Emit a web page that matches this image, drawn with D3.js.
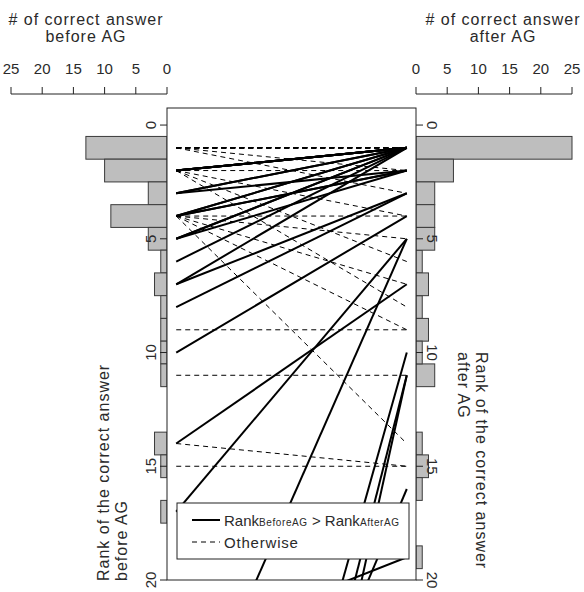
<!DOCTYPE html>
<html>
<head>
<meta charset="utf-8">
<script src="https://cdn.jsdelivr.net/npm/d3@7"></script>
<style>
  body { margin: 0; background: #fff; }
  text { font-family: "Liberation Sans", Arial, sans-serif; fill: #2a2a2a; }
</style>
</head>
<body>
<svg id="chart" width="584" height="592"></svg>
<script>
// rank of the correct answer for each question, before / after AG
const rankBefore = [1, 1, 1, 1, 1, 1, 1, 1, 1, 1, 1, 1, 1,
  2, 2, 2, 2, 2, 2, 2, 2, 2, 2,
  3, 3, 3,
  4, 4, 4, 4, 4, 4, 4, 4, 4,
  5, 5, 5,
  6, 7, 7, 8, 9, 10, 11, 14, 14, 15, 17,
  28, 46, 51, 57, 40, 23];
const rankAfter = [1, 1, 1, 1, 1, 1, 1, 1, 1, 1, 1, 2, 3,
  1, 1, 1, 1, 1, 1, 2, 4, 6, 8,
  1, 1, 2,
  1, 1, 2, 2, 4, 5, 7, 9, 14,
  1, 1, 2,
  1, 1, 3, 3, 9, 4, 11, 7, 15, 15, 5,
  5, 10, 11, 11, 16, 19];

const countTicks = [0, 5, 10, 15, 20, 25];
const rankTicks = [0, 5, 10, 15, 20];
const maxRank = 20;

const pairs = rankBefore.map((b, i) => ({ before: b, after: rankAfter[i] }));

function histogram(ranks) {
  const counts = d3.rollup(ranks.filter(r => r <= maxRank), v => v.length, d => d);
  return Array.from(counts, ([rank, n]) => ({ rank, n }));
}

const svg = d3.select('#chart');

const boxL = 167, boxR = 416, boxT = 108, boxB = 580;

const y = d3.scaleLinear().domain([-0.75, maxRank]).range([boxT, boxB]);
const x = d3.scaleLinear().domain([-0.04, 1.04]).range([boxL, boxR]);
const xBefore = d3.scaleLinear().domain([0, 25]).range([boxL, 11]);
const xAfter = d3.scaleLinear().domain([0, 25]).range([boxR, 572]);

// histograms
svg.append('g')
  .selectAll('rect')
  .data(histogram(rankBefore))
  .join('rect')
  .attr('x', d => xBefore(d.n))
  .attr('y', d => y(d.rank - 0.5))
  .attr('width', d => xBefore(0) - xBefore(d.n))
  .attr('height', d => y(d.rank + 0.5) - y(d.rank - 0.5))
  .attr('fill', '#bebebe')
  .attr('stroke', '#3a3a3a');

svg.append('g')
  .selectAll('rect')
  .data(histogram(rankAfter))
  .join('rect')
  .attr('x', xAfter(0))
  .attr('y', d => y(d.rank - 0.5))
  .attr('width', d => xAfter(d.n) - xAfter(0))
  .attr('height', d => y(d.rank + 0.5) - y(d.rank - 0.5))
  .attr('fill', '#bebebe')
  .attr('stroke', '#3a3a3a');

// plot box
svg.append('rect')
  .attr('x', boxL)
  .attr('y', boxT)
  .attr('width', boxR - boxL)
  .attr('height', boxB - boxT)
  .attr('fill', '#fff')
  .attr('stroke', '#222');

svg.append('clipPath')
  .attr('id', 'box')
  .append('rect')
  .attr('x', boxL)
  .attr('y', boxT)
  .attr('width', boxR - boxL)
  .attr('height', boxB - boxT);

// dashed first, solid on top
const improved = d => d.before > d.after;
svg.append('g')
  .attr('clip-path', 'url(#box)')
  .selectAll('line')
  .data(pairs.filter(d => !improved(d)).concat(pairs.filter(improved)))
  .join('line')
  .attr('x1', x(0))
  .attr('x2', x(1))
  .attr('y1', d => y(d.before))
  .attr('y2', d => y(d.after))
  .attr('stroke', '#000')
  .attr('stroke-width', d => (improved(d) ? 2 : 1))
  .attr('stroke-dasharray', d => (improved(d) ? null : '5,4'));

// rank axes
const leftRank = svg.append('g').attr('transform', `translate(${boxL},0)`);
leftRank.selectAll('line')
  .data(rankTicks)
  .join('line')
  .attr('x1', 0).attr('x2', -7)
  .attr('y1', d => y(d)).attr('y2', d => y(d))
  .attr('stroke', '#222');
leftRank.selectAll('text')
  .data(rankTicks)
  .join('text')
  .attr('transform', d => `translate(-11,${y(d)}) rotate(-90)`)
  .attr('text-anchor', 'middle')
  .attr('font-size', 15)
  .text(d => d);

const rightRank = svg.append('g').attr('transform', `translate(${boxR},0)`);
rightRank.selectAll('line')
  .data(rankTicks)
  .join('line')
  .attr('x1', 0).attr('x2', 7)
  .attr('y1', d => y(d)).attr('y2', d => y(d))
  .attr('stroke', '#222');
rightRank.selectAll('text')
  .data(rankTicks)
  .join('text')
  .attr('transform', d => `translate(11,${y(d)}) rotate(90)`)
  .attr('text-anchor', 'middle')
  .attr('font-size', 15)
  .text(d => d);

// count axes on top
function countAxis(scale, cx, label) {
  const g = svg.append('g');
  g.append('line')
    .attr('x1', scale(0)).attr('x2', scale(25))
    .attr('y1', 94).attr('y2', 94)
    .attr('stroke', '#222');
  g.selectAll('.tick')
    .data(countTicks)
    .join('line')
    .attr('x1', d => scale(d)).attr('x2', d => scale(d))
    .attr('y1', 94).attr('y2', 87)
    .attr('stroke', '#222');
  g.selectAll('.lbl')
    .data(countTicks)
    .join('text')
    .attr('x', d => scale(d))
    .attr('y', 74)
    .attr('text-anchor', 'middle')
    .attr('font-size', 15)
    .text(d => d);
  const t = g.append('text')
    .attr('text-anchor', 'middle')
    .attr('font-size', 16)
    .attr('letter-spacing', 1);
  t.append('tspan').attr('x', cx).attr('y', 25).text('# of correct answer');
  t.append('tspan').attr('x', cx).attr('y', 42).text(label);
}
countAxis(xBefore, 86, 'before AG');
countAxis(xAfter, 503, 'after AG');

// rank axis titles
const leftTitle = svg.append('text')
  .attr('transform', 'translate(0,581) rotate(-90)')
  .attr('font-size', 16)
  .attr('letter-spacing', 1);
leftTitle.append('tspan').attr('x', 0).attr('y', 109).text('Rank of the correct answer');
leftTitle.append('tspan').attr('x', 0).attr('y', 127).text('before AG');

const rightTitle = svg.append('text')
  .attr('transform', 'translate(0,352) rotate(90)')
  .attr('font-size', 16)
  .attr('letter-spacing', 1);
rightTitle.append('tspan').attr('x', 0).attr('y', -476).text('Rank of the correct answer');
rightTitle.append('tspan').attr('x', 0).attr('y', -458).text('after AG');

// legend
const legend = svg.append('g').attr('transform', 'translate(177,503)');
legend.append('rect')
  .attr('width', 232).attr('height', 56)
  .attr('fill', '#fff').attr('stroke', '#222');
legend.append('line')
  .attr('x1', 15).attr('x2', 43).attr('y1', 17).attr('y2', 17)
  .attr('stroke', '#000').attr('stroke-width', 2);
legend.append('line')
  .attr('x1', 15).attr('x2', 43).attr('y1', 39).attr('y2', 39)
  .attr('stroke', '#000').attr('stroke-dasharray', '5,4');
const l1 = legend.append('text').attr('x', 47).attr('y', 23).attr('font-size', 15);
l1.append('tspan').text('Rank');
l1.append('tspan').attr('font-size', 10).attr('letter-spacing', 0.6).text('BeforeAG');
l1.append('tspan').text(' > Rank');
l1.append('tspan').attr('font-size', 10).attr('letter-spacing', 0.6).text('AfterAG');
legend.append('text').attr('x', 47).attr('y', 45).attr('font-size', 15)
  .attr('letter-spacing', 0.8).text('Otherwise');
</script>
</body>
</html>
